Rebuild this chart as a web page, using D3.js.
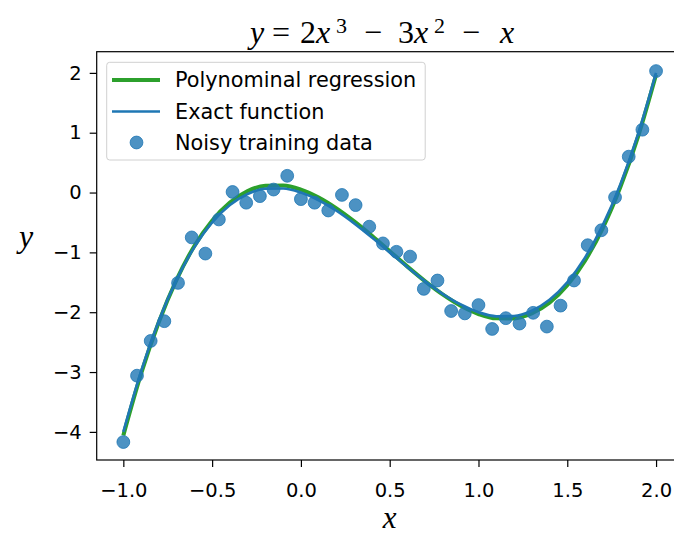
<!DOCTYPE html>
<html lang="en">
<head>
  <meta charset="utf-8">
  <script src="https://d3js.org/d3.v7.min.js"></script>
  <style>
    body { margin: 0; background: white; }
    svg text { font-family: "DejaVu Sans", sans-serif; fill: black; }
    .math { font-family: "Liberation Serif", "DejaVu Serif", serif; }
  </style>
</head>
<body>
<script>
  // curve samples (x step 0.1)
  var curveX = [-1, -0.9, -0.8, -0.7, -0.6, -0.5, -0.4, -0.3, -0.2, -0.1, 0,
                0.1, 0.2, 0.3, 0.4, 0.5, 0.6, 0.7, 0.8, 0.9, 1.0,
                1.1, 1.2, 1.3, 1.4, 1.5, 1.6, 1.7, 1.8, 1.9, 2.0];
  var exactY = [-4, -2.988, -2.144, -1.456, -0.912, -0.5, -0.208, -0.024, 0.064, 0.068, 0,
                -0.128, -0.304, -0.516, -0.752, -1.0, -1.248, -1.484, -1.696, -1.872, -2,
                -2.068, -2.064, -1.976, -1.792, -1.5, -1.088, -0.544, 0.144, 0.988, 2];
  var regY = [-4.06, -3.028, -2.164, -1.456, -0.892, -0.47, -0.168, 0.026, 0.114, 0.118, 0.05,
              -0.083, -0.264, -0.481, -0.722, -0.98, -1.238, -1.484, -1.706, -1.892, -2.03,
              -2.103, -2.104, -2.021, -1.842, -1.55, -1.138, -0.594, 0.099, 0.948, 1.97];

  // noisy training data
  var noiseX = [-1, -0.923, -0.846, -0.769, -0.692, -0.615, -0.538, -0.462, -0.385, -0.308,
                -0.231, -0.154, -0.077, 0, 0.077, 0.154, 0.231, 0.308, 0.385, 0.462,
                0.538, 0.615, 0.692, 0.769, 0.846, 0.923, 1, 1.077, 1.154, 1.231,
                1.308, 1.385, 1.462, 1.538, 1.615, 1.692, 1.769, 1.846, 1.923, 2];
  var noiseY = [-4.17, -3.06, -2.48, -2.15, -1.51, -0.75, -1.02, -0.45, 0.01, -0.17,
                -0.06, 0.05, 0.28, -0.11, -0.17, -0.30, -0.04, -0.21, -0.57, -0.85,
                -0.99, -1.07, -1.61, -1.47, -1.98, -2.02, -1.88, -2.28, -2.10, -2.19,
                -2.01, -2.24, -1.89, -1.47, -0.88, -0.63, -0.08, 0.60, 1.05, 2.03];

  var xTicks = [-1.0, -0.5, 0.0, 0.5, 1.0, 1.5, 2.0];
  var yTicks = [-4, -3, -2, -1, 0, 1, 2];
  var legendLabels = ["Polynominal regression", "Exact function", "Noisy training data"];

  var W = 674, H = 534;
  var mLeft = 96.7, mRight = 682.7, mTop = 51.7, mBottom = 460;

  var svg = d3.select("body").append("svg").attr("width", W).attr("height", H);

  var x = d3.scaleLinear().domain([-1.15, 2.15]).range([mLeft, mRight]);
  var y = d3.scaleLinear().domain([-4.47, 2.354]).range([mBottom, mTop]);

  svg.append("clipPath").attr("id", "clip")
    .append("rect").attr("x", mLeft).attr("y", mTop)
    .attr("width", mRight - mLeft).attr("height", mBottom - mTop);

  var plot = svg.append("g").attr("clip-path", "url(#clip)");

  var line = d3.line()
    .x(function(d) { return x(d[0]); })
    .y(function(d) { return y(d[1]); })
    .curve(d3.curveMonotoneX);

  plot.append("path")
    .datum(d3.zip(curveX, regY))
    .attr("d", line)
    .attr("fill", "none").attr("stroke", "#2ca02c").attr("stroke-width", 4);

  plot.append("path")
    .datum(d3.zip(curveX, exactY))
    .attr("d", line)
    .attr("fill", "none").attr("stroke", "#1f77b4").attr("stroke-width", 2.7);

  plot.selectAll("circle.pt")
    .data(d3.zip(noiseX, noiseY))
    .enter().append("circle")
    .attr("class", "pt")
    .attr("cx", function(d) { return x(d[0]); })
    .attr("cy", function(d) { return y(d[1]); })
    .attr("r", 6.4)
    .attr("fill", "#1f77b4").attr("fill-opacity", 0.8)
    .attr("stroke", "#1f77b4").attr("stroke-opacity", 0.8).attr("stroke-width", 1);

  // axes
  var fmtX = function(d) { return d3.format(".1f")(d).replace("-", "\u2212"); };
  var fmtY = function(d) { return String(d).replace("-", "\u2212"); };

  var gx = svg.append("g").attr("transform", "translate(0," + mBottom + ")")
    .call(d3.axisBottom(x).tickValues(xTicks).tickFormat(fmtX).tickSize(7).tickPadding(16));
  var gy = svg.append("g").attr("transform", "translate(" + mLeft + ",0)")
    .call(d3.axisLeft(y).tickValues(yTicks).tickFormat(fmtY).tickSize(7).tickPadding(8));
  [gx, gy].forEach(function(g) {
    g.select(".domain").remove();
    g.selectAll("line").attr("stroke", "black").attr("stroke-width", 1.2);
    g.selectAll("text").attr("font-size", 19.5).attr("font-family", "DejaVu Sans");
  });

  // spines
  svg.append("rect").attr("x", mLeft).attr("y", mTop)
    .attr("width", mRight - mLeft).attr("height", mBottom - mTop)
    .attr("fill", "none").attr("stroke", "black").attr("stroke-width", 1.2);

  // legend
  var lg = svg.append("g");
  lg.append("rect").attr("x", 106.7).attr("y", 62.3).attr("width", 318.5).attr("height", 97.7)
    .attr("rx", 3).attr("fill", "white").attr("fill-opacity", 0.8)
    .attr("stroke", "#d0d0d0").attr("stroke-width", 1);
  var rowY = [80, 111.5, 142.5];
  lg.append("line").attr("x1", 112).attr("x2", 160).attr("y1", rowY[0]).attr("y2", rowY[0])
    .attr("stroke", "#2ca02c").attr("stroke-width", 4);
  lg.append("line").attr("x1", 112).attr("x2", 160).attr("y1", rowY[1]).attr("y2", rowY[1])
    .attr("stroke", "#1f77b4").attr("stroke-width", 2.5);
  lg.append("circle").attr("cx", 136.5).attr("cy", rowY[2]).attr("r", 6.4)
    .attr("fill", "#1f77b4").attr("fill-opacity", 0.8)
    .attr("stroke", "#1f77b4").attr("stroke-opacity", 0.8);
  lg.selectAll("text.lab").data(legendLabels).enter().append("text")
    .attr("class", "lab")
    .attr("x", 175).attr("y", function(d, i) { return rowY[i]; })
    .attr("dy", "0.36em").attr("font-size", 20.8)
    .text(function(d) { return d; });

  // title y = 2x^3 - 3x^2 - x, pieces placed like matplotlib mathtext
  var title = svg.append("text").attr("class", "math").attr("font-size", 32);
  var parts = [
    { t: "y", x: 250, it: true },
    { t: "=", x: 272 },
    { t: "2", x: 300 },
    { t: "x", x: 316, it: true },
    { t: "3", x: 336, sup: true },
    { t: "\u2212", x: 364 },
    { t: "3", x: 398 },
    { t: "x", x: 414, it: true },
    { t: "2", x: 434, sup: true },
    { t: "\u2212", x: 462 },
    { t: "x", x: 500, it: true }
  ];
  parts.forEach(function(p) {
    title.append("tspan")
      .attr("x", p.x).attr("y", p.sup ? 33 : 42.5)
      .attr("font-size", p.sup ? 22 : 32)
      .attr("font-style", p.it ? "italic" : "normal")
      .text(p.t);
  });

  // axis labels
  svg.append("text").attr("class", "math")
    .attr("x", (mLeft + mRight) / 2).attr("y", 528)
    .attr("text-anchor", "middle").attr("font-size", 31).attr("font-style", "italic")
    .text("x");
  svg.append("text").attr("class", "math")
    .attr("x", 26).attr("y", 247)
    .attr("text-anchor", "middle").attr("font-size", 32).attr("font-style", "italic")
    .text("y");
</script>
</body>
</html>
